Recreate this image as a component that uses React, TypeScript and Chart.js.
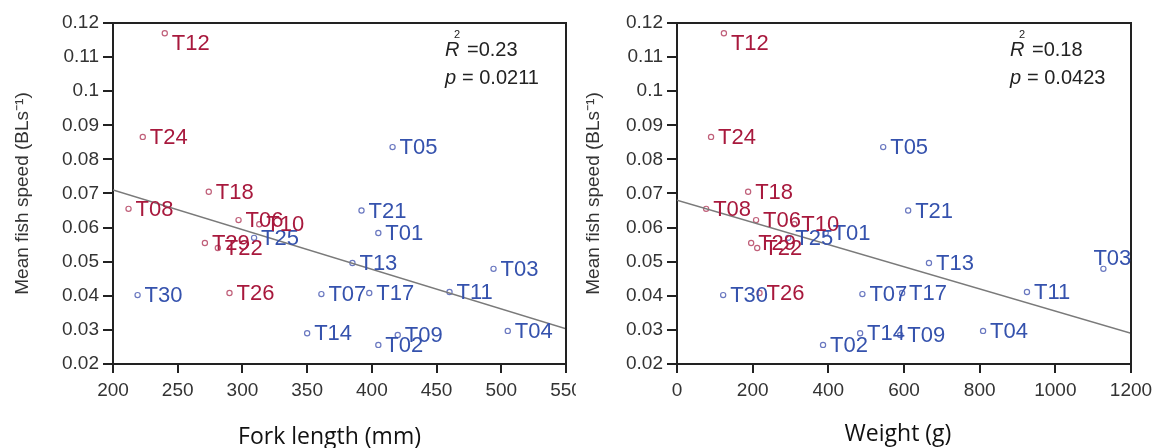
import React, { useEffect, useRef } from "react";
import { Chart, registerables } from "chart.js";
Chart.register(...registerables);

// ---- data ----
const tags = ["T01", "T02", "T03", "T04", "T05", "T06", "T07", "T08", "T09", "T10", "T11", "T12", "T13", "T14", "T17", "T18", "T21", "T22", "T24", "T25", "T26", "T29", "T30"];
const forkLength = [405, 405, 494, 505, 416, 297, 361, 212, 420, 313, 460, 240, 385, 350, 398, 274, 392, 281, 223, 309, 290, 271, 219];
const weight = [393, 386, 1127, 809, 545, 209, 490, 77, 590, 310, 925, 124, 666, 484, 595, 188, 611, 212, 90, 294, 218, 196, 122];
const speed = [0.0584, 0.0256, 0.0479, 0.0297, 0.0836, 0.0622, 0.0405, 0.0655, 0.0285, 0.061, 0.0411, 0.117, 0.0496, 0.029, 0.0408, 0.0705, 0.065, 0.054, 0.0866, 0.057, 0.0408, 0.0555, 0.0402];
const group = ["blue", "blue", "blue", "blue", "blue", "red", "blue", "red", "blue", "red", "blue", "red", "blue", "blue", "blue", "red", "blue", "red", "red", "blue", "red", "red", "blue"];

const yTicks = [0.02, 0.03, 0.04, 0.05, 0.06, 0.07, 0.08, 0.09, 0.1, 0.11, 0.12];
const lengthTicks = [200, 250, 300, 350, 400, 450, 500, 550];
const weightTicks = [0, 200, 400, 600, 800, 1000, 1200];

const lengthFitX = [200, 550];
const lengthFitY = [0.071, 0.0303];
const weightFitX = [0, 1200];
const weightFitY = [0.068, 0.029];

const lengthStats = ["0.23", "0.0211"];
const weightStats = ["0.18", "0.0423"];

const yTitle = "Mean fish speed (BLs\u207B\u00B9)";
const lengthTitle = "Fork length (mm)";
const weightTitle = "Weight (g)";

// ---- styling ----
const RED = "#a8193d";
const BLUE = "#3552ad";
const RED_PT = "#c0607a";
const BLUE_PT = "#6a78c0";
const AXIS = "#222";
const SANS = "'Liberation Sans', Arial, sans-serif";
const TICK_FONT = { family: SANS, size: 19 };

type PanelCfg = {
  xs: number[];
  fitX: number[];
  fitY: number[];
  xTicks: number[];
  xMin: number;
  xMax: number;
  xTitle: string;
  xTitleShift: number;
  xTitleY: number;
  stats: string[];
  yAxisWidth: number;
  padRight: number;
  yTitlePad: number;
  offsets: Record<string, [number, number]>;
};

function buildChart(canvas: HTMLCanvasElement, cfg: PanelCfg) {
  const mk = (g: string) =>
    tags
      .map((t, i) => ({ t, i }))
      .filter((o) => group[o.i] === g)
      .map((o) => ({ x: cfg.xs[o.i], y: speed[o.i], tag: o.t }));
  const blue = mk("blue");
  const red = mk("red");

  const decor = {
    id: "decor",
    afterDatasetsDraw(chart: any) {
      const ctx = chart.ctx as CanvasRenderingContext2D;
      const a = chart.chartArea;
      ctx.save();
      // frame top & right
      ctx.strokeStyle = AXIS;
      ctx.lineWidth = 2;
      ctx.beginPath();
      ctx.moveTo(a.left, a.top);
      ctx.lineTo(a.right, a.top);
      ctx.lineTo(a.right, a.bottom);
      ctx.stroke();
      // point labels
      ctx.font = "22px " + SANS;
      ctx.textBaseline = "middle";
      ctx.textAlign = "left";
      chart.data.datasets.forEach((ds: any, di: number) => {
        if (!ds.tagColor) return;
        const meta = chart.getDatasetMeta(di);
        meta.data.forEach((el: any, j: number) => {
          const tag = ds.data[j].tag;
          const off = cfg.offsets[tag] || [0, 0];
          ctx.fillStyle = ds.tagColor;
          ctx.fillText(tag, el.x + 7 + off[0], el.y + 1 + off[1]);
        });
      });
      // stats
      const sx = a.right - 121;
      ctx.fillStyle = "#222";
      ctx.font = "italic 20px " + SANS;
      ctx.fillText("R", sx, a.top + 27);
      ctx.fillText("p", sx, a.top + 55);
      ctx.font = "11px " + SANS;
      ctx.fillText("2", sx + 9, a.top + 12);
      ctx.font = "20px " + SANS;
      ctx.fillText("=" + cfg.stats[0], sx + 22, a.top + 27);
      ctx.fillText("= " + cfg.stats[1], sx + 17, a.top + 55);
      // x-axis title
      ctx.fillStyle = "#111";
      ctx.font = "23px 'Open Sans', Lato, sans-serif";
      ctx.textAlign = "center";
      ctx.fillText(cfg.xTitle, (a.left + a.right) / 2 + cfg.xTitleShift, cfg.xTitleY);
      ctx.restore();
    },
  };

  return new Chart(canvas, {
    type: "scatter",
    data: {
      datasets: [
        {
          type: "line",
          data: cfg.fitX.map((x, i) => ({ x, y: cfg.fitY[i] })),
          borderColor: "#7a7a7a",
          borderWidth: 1.5,
          pointRadius: 0,
          showLine: true,
          fill: false,
        } as any,
        {
          data: blue,
          pointRadius: 2.6,
          pointBorderWidth: 1.2,
          pointBackgroundColor: "#fff",
          pointBorderColor: BLUE_PT,
          tagColor: BLUE,
        } as any,
        {
          data: red,
          pointRadius: 2.6,
          pointBorderWidth: 1.2,
          pointBackgroundColor: "#fff",
          pointBorderColor: RED_PT,
          tagColor: RED,
        } as any,
      ],
    },
    options: {
      responsive: false,
      animation: false,
      devicePixelRatio: 1,
      layout: { padding: { left: 0, top: 23, right: cfg.padRight, bottom: 0 } },
      plugins: { legend: { display: false }, tooltip: { enabled: false } },
      scales: {
        x: {
          type: "linear",
          min: cfg.xMin,
          max: cfg.xMax,
          afterBuildTicks: (s: any) => {
            s.ticks = cfg.xTicks.map((v) => ({ value: v }));
          },
          afterFit: (s: any) => {
            s.height = 84;
            s.paddingLeft = 0;
            s.paddingRight = 0;
          },
          ticks: {
            font: TICK_FONT,
            color: "#333",
            padding: 6,
            maxRotation: 0,
            autoSkip: false,
            callback: (v: any) => String(v),
          },
          grid: { drawOnChartArea: false, drawTicks: true, tickLength: 9, color: AXIS, lineWidth: 2 },
          border: { display: true, color: AXIS, width: 2 },
          title: { display: false },
        },
        y: {
          type: "linear",
          min: 0.02,
          max: 0.12,
          afterBuildTicks: (s: any) => {
            s.ticks = yTicks.map((v) => ({ value: v }));
          },
          afterFit: (s: any) => {
            s.width = cfg.yAxisWidth;
            s.paddingTop = 0;
            s.paddingBottom = 0;
          },
          ticks: {
            font: TICK_FONT,
            color: "#333",
            padding: 4,
            autoSkip: false,
            callback: (v: any) => String(+Number(v).toFixed(2)),
          },
          grid: { drawOnChartArea: false, drawTicks: true, tickLength: 10, color: AXIS, lineWidth: 2 },
          border: { display: true, color: AXIS, width: 2 },
          title: {
            display: true,
            text: yTitle,
            color: "#333",
            font: { family: SANS, size: 19 },
            padding: { top: cfg.yTitlePad, bottom: 0 },
          },
        },
      },
    },
    plugins: [decor],
  } as any);
}

export default function App() {
  const leftRef = useRef<HTMLCanvasElement>(null);
  const rightRef = useRef<HTMLCanvasElement>(null);

  useEffect(() => {
    const c1 = buildChart(leftRef.current!, {
      xs: forkLength,
      fitX: lengthFitX,
      fitY: lengthFitY,
      xTicks: lengthTicks,
      xMin: 200,
      xMax: 550,
      xTitle: lengthTitle,
      xTitleShift: -10,
      xTitleY: 437,
      stats: lengthStats,
      yAxisWidth: 113,
      padRight: 10,
      yTitlePad: 11,
      offsets: { T12: [0, 10] },
    });
    const c2 = buildChart(rightRef.current!, {
      xs: weight,
      fitX: weightFitX,
      fitY: weightFitY,
      xTicks: weightTicks,
      xMin: 0,
      xMax: 1200,
      xTitle: weightTitle,
      xTitleShift: -6,
      xTitleY: 434,
      stats: weightStats,
      yAxisWidth: 101,
      padRight: 21,
      yTitlePad: 6,
      offsets: { T12: [0, 10], T03: [-17, -11] },
    });
    return () => {
      c1.destroy();
      c2.destroy();
    };
  }, []);

  return (
    <div style={{ position: "fixed", left: 0, top: 0, width: 1152, height: 448, background: "#fff" }}>
      <canvas ref={leftRef} width={576} height={448} style={{ position: "absolute", left: 0, top: 0, width: 576, height: 448 }} />
      <canvas ref={rightRef} width={576} height={448} style={{ position: "absolute", left: 576, top: 0, width: 576, height: 448 }} />
    </div>
  );
}
